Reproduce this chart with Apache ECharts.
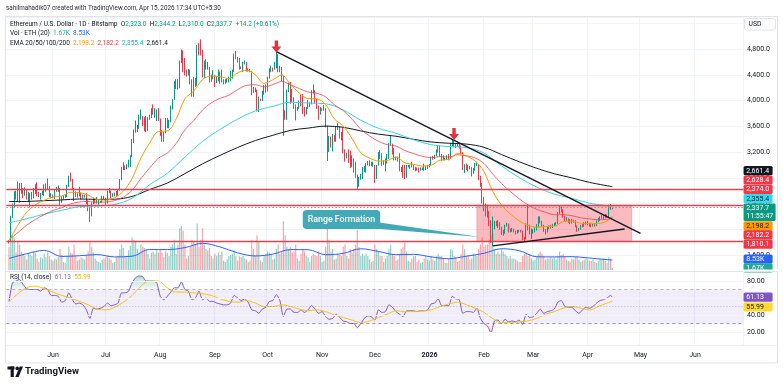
<!DOCTYPE html>
<html>
<head>
<meta charset="utf-8">
<title>ETHUSD 1D</title>
<script src="https://cdn.jsdelivr.net/npm/echarts@6/dist/echarts.min.js"></script>
<style>
html,body{margin:0;padding:0;background:#ffffff;}
#chart{width:783px;height:388px;}
</style>
</head>
<body>
<div id="chart"></div>
<script>
// ================= DATA =================
// Daily candles, Bitstamp ETH/USD, 2025-05-07 .. 2026-04-15 (open = previous close)
const firstDataDate = '2025-05-07';
const firstOpen = 1815;
const closes = [
// May 7-31
1810,2205,2345,2580,2515,2495,2680,2610,2550,2600,2480,2500,2520,2525,2555,2665,2535,2530,2550,2565,2660,2680,2630,2530,2530,
// Jun
2510,2600,2590,2610,2420,2480,2520,2510,2680,2815,2770,2640,2575,2525,2545,2545,2510,2525,2525,2405,2295,2230,2410,2450,2420,2420,2425,2435,2500,2490,
// Jul
2400,2575,2590,2510,2520,2545,2540,2610,2770,2950,2960,2945,2970,3010,3140,3370,3480,3545,3595,3760,3760,3740,3635,3710,3720,3745,3875,3795,3795,3810,3700,
// Aug
3490,3400,3500,3720,3610,3680,3910,4010,4250,4260,4220,4600,4750,4550,4440,4420,4470,4320,4080,4340,4230,4830,4780,4770,4380,4600,4500,4505,4370,4360,4390,
// Sep
4320,4320,4450,4300,4300,4270,4300,4310,4310,4350,4450,4720,4670,4600,4520,4500,4590,4590,4470,4480,4450,4200,4160,4160,3870,4030,4020,4140,4220,4150,
// Oct
4350,4480,4510,4480,4510,4690,4460,4520,4370,3830,3750,4150,4250,4130,3990,3900,3830,3880,3985,3980,3880,3800,3870,3930,3950,4150,4130,3990,3900,3800,3850,
// Nov
3870,3880,3600,3300,3420,3300,3430,3400,3580,3560,3420,3420,3230,3110,3170,3090,3000,3110,3020,2840,2760,2770,2810,2950,2960,3020,3020,3030,2990,2990,
// Dec
2800,2990,3190,3140,3030,3045,3050,3120,3320,3320,3240,3090,3110,3070,2930,2950,2830,2820,2980,2980,2970,3000,2960,2950,2930,2920,2940,2950,2940,2970,2970,
// Jan
3000,3120,3100,3140,3220,3290,3160,3110,3090,3100,3120,3100,3320,3350,3310,3300,3310,3280,3190,2950,2980,2960,2950,2960,2880,2930,3010,3010,2820,2700,2450,
// Feb
2390,2320,2230,2100,1830,2060,2090,2080,2100,2020,1940,1950,2050,2080,1960,1990,1990,1960,1950,1960,1980,1970,1860,1850,2060,2030,1950,1960,
// Mar
1970,2000,2050,2180,2120,2060,1990,1960,2020,2040,2030,2060,2080,2090,2250,2330,2300,2200,2150,2160,2140,2100,2140,2130,2050,1990,2000,2060,2050,2090,2100,
// Apr 1-15
2080,2060,2050,2080,2060,2120,2160,2170,2190,2180,2210,2200,2350,2323.5,2337.7
];
const highs = [
1830,2210,2400,2590,2600,2740,2720,2720,2640,2650,2610,2580,2560,2580,2640,2700,2730,2580,2565,2600,2700,2710,2790,2670,2560,
2540,2610,2660,2680,2640,2520,2530,2540,2690,2830,2880,2780,2640,2590,2560,2660,2570,2540,2540,2560,2450,2340,2420,2490,2480,2500,2460,2440,2520,2520,
2490,2600,2640,2600,2560,2570,2600,2620,2780,2970,3040,2990,3010,3080,3150,3400,3550,3690,3620,3780,3860,3760,3740,3760,3740,3780,3880,3940,3880,3860,3880,
3720,3540,3510,3730,3730,3700,3920,4020,4300,4330,4330,4620,4790,4780,4660,4480,4490,4480,4330,4360,4350,4860,4890,4950,4790,4620,4640,4600,4520,4400,4470,
4400,4380,4480,4450,4480,4330,4330,4340,4370,4460,4480,4730,4770,4680,4660,4530,4600,4620,4600,4500,4490,4460,4210,4200,4170,4060,4030,4150,4240,4250,
4370,4500,4540,4510,4600,4760,4720,4540,4520,4380,3850,4170,4280,4290,4180,4050,3940,3900,4000,4090,4100,3900,3900,4010,3970,4160,4250,4160,4030,3920,3900,
3880,3930,3880,3610,3450,3440,3480,3460,3600,3650,3600,3510,3580,3240,3190,3240,3220,3150,3100,3050,2850,2810,2860,2970,2980,3030,3060,3070,3050,3050,
3000,3000,3200,3230,3180,3070,3100,3170,3340,3450,3330,3260,3130,3130,3180,2970,3000,3000,3000,3000,3000,3050,3010,2970,2960,2960,2960,2960,3020,2990,3000,
3010,3130,3140,3160,3240,3300,3300,3170,3150,3110,3150,3170,3340,3400,3370,3330,3330,3330,3300,3200,3010,3020,3000,2980,2970,2950,3030,3050,3010,2830,2720,
2500,2400,2380,2280,2140,2200,2130,2130,2140,2110,2040,1990,2070,2100,2090,2010,2020,2010,1980,1990,1990,1990,1980,1880,2090,2380,2070,2010,
2000,2030,2080,2200,2200,2130,2070,2000,2040,2060,2070,2080,2100,2110,2270,2370,2350,2310,2210,2190,2170,2160,2160,2150,2140,2060,2020,2070,2080,2110,2120,
2130,2100,2080,2090,2090,2140,2180,2200,2220,2220,2240,2230,2380,2390,2344.2
];
const lows = [
1780,1805,2180,2330,2460,2430,2410,2550,2480,2520,2460,2420,2340,2460,2480,2550,2510,2500,2460,2530,2520,2580,2610,2500,2480,
2480,2470,2580,2580,2380,2410,2460,2490,2500,2660,2740,2620,2440,2500,2490,2510,2460,2480,2490,2390,2280,2110,2200,2390,2400,2400,2380,2410,2410,2460,
2380,2400,2560,2480,2500,2510,2510,2520,2600,2760,2920,2920,2930,2960,2970,3120,3340,3500,3510,3560,3700,3600,3520,3510,3530,3700,3725,3780,3730,3680,3680,
3450,3360,3360,3490,3570,3570,3660,3860,4010,4180,4170,4190,4580,4440,4390,4370,4390,4250,4060,4060,4210,4230,4700,4700,4360,4350,4480,4480,4280,4290,4330,
4210,4270,4300,4260,4280,4250,4260,4280,4280,4300,4340,4440,4640,4590,4480,4490,4440,4560,4450,4450,4440,4080,4120,4130,3830,3820,3990,3990,4090,4120,
4140,4340,4440,4450,4480,4500,4440,4440,4300,3450,3700,3700,4130,3950,3970,3870,3690,3840,3870,3910,3790,3750,3780,3870,3900,3940,4110,3950,3870,3700,3780,
3840,3840,3580,3060,3200,3270,3210,3360,3360,3540,3410,3380,3180,3050,3100,3030,2950,2970,2880,2800,2620,2660,2770,2780,2890,2880,2990,2980,2980,2970,
2720,2780,2990,3090,2980,3000,2900,3020,3090,3300,3160,3070,3070,3050,2900,2890,2800,2780,2800,2960,2940,2960,2920,2900,2910,2880,2910,2920,2910,2920,2940,
2960,2990,3080,3090,3130,3190,3130,3060,3070,3070,3080,3070,3090,3290,3280,3260,3280,3250,3170,2920,2870,2920,2900,2930,2820,2860,2910,2980,2760,2660,2400,
2280,2200,2180,2050,1790,1740,2000,2050,2020,1990,1910,1900,1930,2040,1950,1950,1960,1950,1920,1930,1950,1950,1830,1810,1840,1980,1920,1850,
1930,1950,1980,2030,2090,2040,1960,1920,1950,2000,2010,2020,2050,2060,2080,2240,2260,2180,2120,2130,2100,2080,2090,2100,2030,1960,1970,1990,2030,2040,2070,
2060,2040,2030,2040,2040,2050,2110,2130,2160,2150,2170,2180,2190,2300,2310
];
// Daily volume, thousands of ETH
const volumes = [
20,38,30,28,15,25,22,16,14,12,9,14,13,12,16,15,10,7,11,10,14,11,15,12,9,
8,10,9,11,18,13,7,6,12,20,15,14,22,12,8,9,11,10,9,13,16,24,20,15,10,8,7,6,9,10,
11,12,10,9,6,7,11,12,18,22,19,12,11,17,21,28,26,24,18,15,22,20,19,18,14,10,15,16,14,17,15,
18,15,11,16,15,12,20,22,26,14,22,36,38,34,22,10,12,20,26,24,22,40,20,26,36,22,18,17,19,12,10,
14,12,15,13,16,8,7,9,12,13,14,17,12,8,12,11,12,10,9,7,8,26,18,13,30,24,8,7,12,14,
16,15,13,9,10,18,22,14,16,42,30,20,18,20,15,16,22,10,8,14,18,16,12,11,7,12,14,13,12,16,12,
7,8,20,36,26,16,18,9,10,14,13,12,20,22,12,10,18,15,18,22,34,20,12,14,12,14,12,9,7,8,
22,18,16,12,12,7,10,12,18,22,14,12,8,9,14,18,20,24,16,8,7,10,12,12,7,9,6,7,10,12,9,
8,12,9,8,12,14,12,12,10,6,6,10,18,17,12,11,7,8,14,22,18,12,13,9,10,14,13,12,18,22,28,
20,22,22,26,30,32,18,14,16,14,18,16,14,12,10,12,10,10,9,8,7,7,12,14,15,12,14,10,
8,9,12,14,16,14,12,9,10,10,11,10,11,9,12,16,13,14,12,9,8,7,10,9,11,12,9,7,8,9,10,
9,8,8,9,7,6,8,10,9,10,8,6,11,10,1.67
];
// Indicator lines at fixed day steps (+ last value)
const ema20Step = 5;
const ema20 = [1820,2060,2264,2380,2450,2500,2516,2573,2568,2530,2463,2454,2490,2592,2788,3107,3344,3519,3527,3713,4026,4146,4324,4381,4369,4342,4432,4470,4400,4266,4323,4396,4248,4119,4029,4025,3937,3714,3606,3411,3187,3106,3060,3068,3120,3034,3009,2982,2993,3074,3084,3177,3135,3062,2896,2587,2376,2236,2131,2060,2032,2043,2046,2118,2127,2093,2088,2089,2129];
const ema20Last = 2198.2;
const ema50Step = 5;
const ema50 = [1840,1947,2062,2152,2226,2290,2335,2394,2424,2432,2419,2423,2445,2500,2607,2787,2954,3105,3184,3332,3545,3687,3852,3964,4034,4082,4170,4235,4245,4212,4248,4295,4245,4186,4132,4112,4056,3932,3843,3710,3553,3449,3366,3314,3293,3222,3176,3133,3111,3127,3122,3158,3142,3107,3022,2857,2711,2586,2474,2379,2309,2264,2225,2226,2210,2179,2161,2148,2156];
const ema50Last = 2182.2;
const ema100Step = 10;
const ema100 = [2100,2163,2235,2294,2351,2362,2385,2482,2693,2870,3120,3363,3552,3711,3838,3909,3974,3961,3950,3852,3694,3568,3491,3390,3314,3284,3269,3184,2984,2804,2655,2545,2481,2405];
const ema100Last = 2355.4;
const ema200Step = 10;
const ema200 = [2430,2432,2444,2455,2470,2464,2467,2510,2618,2718,2864,3016,3148,3270,3378,3459,3536,3571,3602,3584,3527,3477,3445,3397,3356,3336,3323,3273,3160,3049,2947,2862,2798,2728];
const ema200Last = 2661.4;
const volMaStep = 10;
const volMa = [10,14,16.9,11.7,12.3,13.3,11.3,11.9,17.7,17.6,19.3,23,19.9,14.8,12.1,13.7,17.6,17.5,13.2,14.3,18.3,16,13.2,13.5,11.3,9.7,11.9,14.4,18.3,16.7,11.4,11.3,11.5,10.3];
const volMaLast = 8.53;
const rsiStep = 2;
const rsi = [56,78,80,82,76,71,70,70,70,68,72,70,63,63,62,55,57,66,58,53,54,52,46,36,48,47,48,50,54,51,
52,54,66,66,68,78,84,86,85,80,80,80,78,62,58,62,67,72,72,79,70,68,58,60,68,58,60,56,56,54,
53,52,52,54,63,60,57,59,55,46,45,42,47,49,56,57,64,57,38,47,47,43,43,46,43,46,51,47,42,44,
38,35,36,41,37,33,32,30,30,25,30,36,39,38,34,46,43,44,52,49,44,41,38,45,45,45,44,45,45,46,
53,54,59,51,51,51,62,59,58,42,44,44,43,48,36,30,27,19,33,34,30,35,32,33,32,34,29,41,37,38,
42,47,42,44,45,47,55,57,50,49,49,45,42,46,49,48,50,54,57,58,60,63];
const rsiLast = 61.13;
const rsiMaStep = 5;
const rsiMa = [55,65,72,74,71,67,63,60,56,52,47,46,49,55,63,74,80,80,72,67,67,66,65,63,59,56,55,57,54,50,50,52,50,47,45,46,44,40,37,34,31,33,37,41,45,44,44,45,46,50,53,55,52,48,43,36,31,31,32,33,36,41,44,48,50,48,46,50,54];
const rsiMaLast = 55.99;

// Drawn levels and annotations (prices / dates)
const resistanceLevels = [2628.4, 2374.0];
const supportLevel = 1810.1;
const rangeBox = {from: '2026-01-28', to: '2026-04-26', top: 2374.0, bottom: 1810.1};
const downTrend = [['2025-10-06', 4760], ['2026-05-01', 1937]];
const upTrend = [['2026-02-06', 1741], ['2026-04-22', 2003]];
const arrows = [['2025-10-06', 4839], ['2026-01-15', 3480]];
const callout = {text: 'Range Formation', from: '2025-10-21', to: '2025-12-04', top: 2299, bottom: 2004, tipDate: '2026-01-30', tipPrice: 1880};

// Tick labels
const monthTickDates = ['2025-06-01','2025-07-01','2025-08-01','2025-09-01','2025-10-01','2025-11-01','2025-12-01','2026-01-01','2026-02-01','2026-03-01','2026-04-01','2026-05-01','2026-06-01'];
const monthTickLabels = ['Jun','Jul','Aug','Sep','Oct','Nov','Dec','2026','Feb','Mar','Apr','May','Jun'];
const priceTickMin = 1600, priceTickMax = 5200;
const rsiTicks = [20, 40, 60, 80];

// Texts
const headerText = 'sahilmahadik07 created with TradingView.com, Apr 15, 2026 17:34 UTC+5:30';
const symbolText = 'Ethereum / U.S. Dollar · 1D · Bitstamp';
const ohlcText = {O: '2,323.0', H: '2,344.2', L: '2,310.0', C: '2,337.7', chg: '+14.2 (+0.61%)'};
const countdownText = '11:55:47';

// ================= BUILD =================
const FONT = 'Roboto, "Noto Sans", "Liberation Sans", sans-serif';
const DAY = 86400000;
const catStart = Date.UTC(2025, 4, 6);   // one empty slot before first candle
const CAT_COUNT = 419;                    // through 2026-06-28
const categories = [];
for (let i = 0; i < CAT_COUNT; i++) categories.push(new Date(catStart + i * DAY).toISOString().slice(0, 10));
const OFFSET = categories.indexOf(firstDataDate);
const N = closes.length;
const fmt1 = v => v.toLocaleString('en-US', {minimumFractionDigits: 1, maximumFractionDigits: 1});

const opens = closes.map((c, i) => i === 0 ? firstOpen : closes[i - 1]);
const candleData = closes.map((c, i) => [i + OFFSET, opens[i], c, lows[i], highs[i]]);
const UP = '#089981', DOWN = '#f23645';
const volData = volumes.map((v, i) => ({
  value: [i + OFFSET, v],
  itemStyle: {color: closes[i] >= opens[i] ? 'rgba(8,153,129,0.45)' : 'rgba(242,54,69,0.45)'}
}));
function stepped(vals, step, last) {
  const out = vals.map((v, k) => [k * step + OFFSET, v]);
  out.push([N - 1 + OFFSET, last]);
  return out;
}
const isMonthStart = (idx, val) => monthTickDates.indexOf(val) >= 0;

const GRID_L = 6.36, GRID_RIGHT_X = 743.4, GRID_R = 783 - GRID_RIGHT_X;
const lineS = (name, data, color, width, xi, yi, z, extra) => Object.assign({
  type: 'line', name, data, xAxisIndex: xi, yAxisIndex: yi, symbol: 'none', smooth: 0.35,
  lineStyle: {color, width}, z, silent: true
}, extra || {});

const LEVEL_RED = '#e8414d';
const levelItem = v => ({yAxis: v, lineStyle: {color: LEVEL_RED, width: 1.3, type: 'solid', opacity: 1}});
const arrowPath = 'path://M3.3,0 L6.7,0 L6.7,6 L10,6 L5,12 L0,6 L3.3,6 Z';

const option = {
  animation: false,
  backgroundColor: '#ffffff',
  textStyle: {fontFamily: FONT},
  grid: [
    {left: GRID_L, right: GRID_R, top: 17, height: 263.75},
    {left: GRID_L, right: GRID_R, top: 212, height: 58},
    {left: GRID_L, right: GRID_R, top: 264, height: 85},
    {left: GRID_L, right: GRID_R, top: 17, height: 328}
  ],
  xAxis: [0, 1, 2, 3].map(g => ({
    type: 'category', gridIndex: g, data: categories, boundaryGap: true,
    axisLine: {show: false}, axisTick: {show: false},
    axisLabel: g === 3 ? {
      show: true, interval: isMonthStart, margin: 7, fontSize: 7, color: '#131722', fontFamily: FONT,
      formatter: v => {
        const k = monthTickDates.indexOf(v);
        if (k < 0) return '';
        return monthTickLabels[k] === '2026' ? '{b|2026}' : monthTickLabels[k];
      },
      rich: {b: {fontWeight: 'bold', fontSize: 7, color: '#131722', fontFamily: FONT}}
    } : {show: false},
    splitLine: g === 3 ? {show: true, interval: isMonthStart, lineStyle: {color: '#f0f3fa', width: 1}} : {show: false}
  })),
  yAxis: [
    {type: 'value', gridIndex: 0, position: 'right', min: 1200, max: 5297.1, interval: 400,
      axisLine: {show: false}, axisTick: {show: false},
      axisLabel: {margin: 3.6, fontSize: 7, color: '#131722', fontFamily: FONT,
        formatter: v => (v >= priceTickMin && v <= priceTickMax && v % 400 === 0) ? fmt1(v) : ''},
      splitLine: {show: true, lineStyle: {color: '#f0f3fa', width: 1}}},
    {type: 'value', gridIndex: 1, min: 0, max: 50, show: false},
    {type: 'value', gridIndex: 2, position: 'right', min: 0, max: 100, interval: 20,
      axisLine: {show: false}, axisTick: {show: false},
      axisLabel: {margin: 3.6, fontSize: 7, color: '#131722', fontFamily: FONT,
        formatter: v => rsiTicks.indexOf(v) >= 0 ? v.toFixed(2) : ''},
      splitLine: {show: false}},
    {type: 'value', gridIndex: 3, min: 0, max: 1, show: false}
  ],
  series: [
    {type: 'bar', name: 'Volume', xAxisIndex: 1, yAxisIndex: 1, data: volData, barWidth: 1.2, z: 1, silent: true},
    lineS('Vol MA', stepped(volMa, volMaStep, volMaLast), '#2962ff', 1, 1, 1, 2),
    {type: 'candlestick', name: 'ETHUSD', xAxisIndex: 0, yAxisIndex: 0, data: candleData,
      encode: {x: 0, y: [1, 2, 3, 4]}, barWidth: 1.2, z: 3, silent: true,
      itemStyle: {color: UP, color0: DOWN, borderColor: UP, borderColor0: DOWN, borderWidth: 1},
      markArea: {silent: true, itemStyle: {color: 'rgba(242,54,69,0.34)', borderColor: 'rgba(242,54,69,0.5)', borderWidth: 0.6},
        data: [[{coord: [rangeBox.from, rangeBox.top]}, {coord: [rangeBox.to, rangeBox.bottom]}]]},
      markLine: {silent: true, symbol: ['none', 'none'], label: {show: false},
        lineStyle: {color: LEVEL_RED, width: 1.3, type: 'solid'},
        data: [levelItem(resistanceLevels[0]), levelItem(resistanceLevels[1]), levelItem(supportLevel)]}
    },
    lineS('EMA 200', stepped(ema200, ema200Step, ema200Last), '#131722', 1, 0, 0, 4),
    lineS('EMA 100', stepped(ema100, ema100Step, ema100Last), '#38d3e6', 1, 0, 0, 4),
    lineS('EMA 50', stepped(ema50, ema50Step, ema50Last), 'rgba(242,54,69,0.75)', 1, 0, 0, 4),
    lineS('EMA 20', stepped(ema20, ema20Step, ema20Last), '#ff9800', 1, 0, 0, 4, {
      markLine: {silent: true, symbol: ['none', 'none'], label: {show: false},
        lineStyle: {color: '#131722', width: 1.4, type: 'solid'},
        data: [
          {yAxis: closes[N - 1], lineStyle: {color: '#9598a1', width: 1, type: [1.5, 2]}},
          [{coord: downTrend[0]}, {coord: downTrend[1]}],
          [{coord: upTrend[0]}, {coord: upTrend[1]}]
        ]},
      markPoint: {silent: true, symbol: arrowPath, symbolSize: [10, 12], label: {show: false},
        itemStyle: {color: '#e03340'},
        data: arrows.map(a => ({coord: a}))}
    }),
    {type: 'line', name: 'RSI fill', xAxisIndex: 2, yAxisIndex: 2, data: stepped(rsi, rsiStep, rsiLast),
      symbol: 'none', smooth: 0.2, lineStyle: {width: 0}, z: 1, silent: true,
      areaStyle: {origin: 50, color: {type: 'linear', x: 0, y: 264, x2: 0, y2: 349, global: true, colorStops: [
        {offset: 0, color: 'rgba(8,153,129,0.75)'}, {offset: 0.299, color: 'rgba(8,153,129,0.08)'},
        {offset: 0.3, color: 'rgba(8,153,129,0)'}, {offset: 0.7, color: 'rgba(242,54,69,0)'},
        {offset: 0.701, color: 'rgba(242,54,69,0.08)'}, {offset: 1, color: 'rgba(242,54,69,0.75)'}]}}},
    lineS('RSI', stepped(rsi, rsiStep, rsiLast), '#7e57c2', 1, 2, 2, 3, {smooth: 0.2,
      markArea: {silent: true, itemStyle: {color: 'rgba(126,87,194,0.1)'}, data: [[{yAxis: 30}, {yAxis: 70}]]},
      markLine: {silent: true, symbol: ['none', 'none'], label: {show: false},
        data: [
          {yAxis: 20, lineStyle: {color: '#f0f3fa', width: 1, type: 'solid'}},
          {yAxis: 40, lineStyle: {color: '#f0f3fa', width: 1, type: 'solid'}},
          {yAxis: 60, lineStyle: {color: '#f0f3fa', width: 1, type: 'solid'}},
          {yAxis: 80, lineStyle: {color: '#f0f3fa', width: 1, type: 'solid'}},
          {yAxis: 70, lineStyle: {color: 'rgba(120,123,134,0.55)', width: 1, type: [3, 3]}},
          {yAxis: 50, lineStyle: {color: 'rgba(120,123,134,0.45)', width: 1, type: [1, 2]}},
          {yAxis: 30, lineStyle: {color: 'rgba(120,123,134,0.75)', width: 1, type: [3, 3]}}
        ]}}),
    lineS('RSI MA', stepped(rsiMa, rsiMaStep, rsiMaLast), '#f5c518', 1, 2, 2, 3)
  ]
};

const chart = echarts.init(document.getElementById('chart'), null, {renderer: 'canvas'});
chart.setOption(option);

// ================= OVERLAY TEXT / DRAWINGS =================
const P = (date, price) => chart.convertToPixel({gridIndex: 0}, [date, price]);
const g = [];
const T = (x, y, text, opts) => g.push({type: 'text', z: 120, silent: true,
  style: Object.assign({x, y, text, fill: '#131722', font: '7px ' + FONT, verticalAlign: 'middle', align: 'left'}, opts || {})});
const R = (x, y, w, h, fill, z, extra) => g.push({type: 'rect', z: z || 110, silent: true,
  shape: Object.assign({x, y, width: w, height: h}, extra && extra.shape || {}),
  style: Object.assign({fill}, extra && extra.style || {})});

// frame and pane separators
g.push({type: 'rect', z: 90, silent: true, shape: {x: 5.5, y: 16.5, width: 772, height: 346.5}, style: {fill: 'none', stroke: '#e0e3eb', lineWidth: 1}});
g.push({type: 'line', z: 90, silent: true, shape: {x1: 5.5, y1: 271.5, x2: 777.5, y2: 271.5}, style: {stroke: '#e0e3eb', lineWidth: 1}});
g.push({type: 'line', z: 90, silent: true, shape: {x1: 5.5, y1: 345.5, x2: 777.5, y2: 345.5}, style: {stroke: '#eef0f4', lineWidth: 1}});

// header + legends
T(6, 8, headerText, {font: '6.3px ' + FONT, fill: '#2a2e39'});
const leg = {fontSize: 6.5, fontFamily: FONT};
g.push({type: 'text', z: 120, silent: true, style: {x: 10, y: 24, verticalAlign: 'middle',
  text: '{d|' + symbolText + '  O}{g|' + ohlcText.O + '}{d|  H}{g|' + ohlcText.H + '}{d|  L}{g|' + ohlcText.L + '}{d|  C}{g|' + ohlcText.C + '}{g|  ' + ohlcText.chg + '}',
  rich: {d: Object.assign({fill: '#131722'}, leg), g: Object.assign({fill: UP}, leg)}}});
g.push({type: 'text', z: 120, silent: true, style: {x: 10, y: 33.5, verticalAlign: 'middle',
  text: '{d|Vol · ETH (20)  }{t|' + volumes[N - 1].toFixed(2) + 'K}{b|  ' + volMaLast.toFixed(2) + 'K}',
  rich: {d: Object.assign({fill: '#131722'}, leg), t: Object.assign({fill: '#22ab94'}, leg), b: Object.assign({fill: '#2962ff'}, leg)}}});
g.push({type: 'text', z: 120, silent: true, style: {x: 10, y: 43, verticalAlign: 'middle',
  text: '{d|EMA 20/50/100/200  }{o|' + fmt1(ema20Last) + '}{r|  ' + fmt1(ema50Last) + '}{c|  ' + fmt1(ema100Last) + '}{k|  ' + fmt1(ema200Last) + '}',
  rich: {d: Object.assign({fill: '#131722'}, leg), o: Object.assign({fill: '#ff9800'}, leg), r: Object.assign({fill: '#f23645'}, leg),
         c: Object.assign({fill: '#00bcd4'}, leg), k: Object.assign({fill: '#131722'}, leg)}}});
g.push({type: 'text', z: 120, silent: true, style: {x: 10, y: 277, verticalAlign: 'middle',
  text: '{d|RSI (14, close)  }{p|' + rsiLast.toFixed(2) + '}{y|  ' + rsiMaLast.toFixed(2) + '}',
  rich: {d: Object.assign({fill: '#131722'}, leg), p: Object.assign({fill: '#7e57c2'}, leg), y: Object.assign({fill: '#e6b800'}, leg)}}});

// USD box
R(744.5, 18.5, 31, 11.5, '#ffffff', 111, {style: {stroke: '#e0e3eb', lineWidth: 1}, shape: {r: 2}});
T(748.5, 24.3, 'USD', {font: '6.8px ' + FONT});

// right-side value labels (stacked like the platform does)
const rightLabels = [
  {text: fmt1(ema200Last), y: 170.6, bg: '#131722', fg: '#ffffff'},
  {text: fmt1(resistanceLevels[0]), y: 180.0, bg: '#f23645', fg: '#ffffff'},
  {text: fmt1(resistanceLevels[1]), y: 189.3, bg: '#f23645', fg: '#ffffff'},
  {text: fmt1(ema100Last), y: 198.6, bg: '#2fdcef', fg: '#131722'},
  {text: fmt1(closes[N - 1]), y: 208.0, bg: '#089981', fg: '#ffffff', sub: countdownText},
  {text: fmt1(ema20Last), y: 225.9, bg: '#ff9800', fg: '#131722'},
  {text: fmt1(ema50Last), y: 234.9, bg: '#f23645', fg: '#ffffff'},
  {text: fmt1(supportLevel), y: 244.1, bg: '#f23645', fg: '#ffffff'},
  {text: volMaLast.toFixed(2) + 'K', y: 259.0, bg: '#2962ff', fg: '#ffffff'},
  {text: volumes[N - 1].toFixed(2) + 'K', y: 267.8, bg: '#22ab94', fg: '#ffffff'},
  {text: rsiLast.toFixed(2), y: 297.2, bg: '#7e57c2', fg: '#ffffff'},
  {text: rsiMaLast.toFixed(2), y: 307.0, bg: '#fdd835', fg: '#131722'}
];
rightLabels.forEach(l => {
  const h = l.sub ? 17.6 : 9.2;
  const w = l.sub ? 32 : 29;
  R(743.6, l.y - 4.6, w, h, l.bg, 112, {shape: {r: 1.5}});
  T(746.3, l.y + 0.3, l.text, {fill: l.fg, font: '7px ' + FONT});
  if (l.sub) T(746.3, l.y + 8.7, l.sub, {fill: l.fg, font: '7px ' + FONT});
});
// cover label overflow at the pane border
R(743, 269.6, 40, 2.2, '#ffffff', 113);
g.push({type: 'line', z: 114, silent: true, shape: {x1: 743, y1: 271.5, x2: 777.5, y2: 271.5}, style: {stroke: '#e0e3eb', lineWidth: 1}});

// "Range Formation" callout, anchored in data space
const tl = P(callout.from, callout.top), br = P(callout.to, callout.bottom), tip = P(callout.tipDate, callout.tipPrice);
const bw = br[0] - tl[0], bh = br[1] - tl[1];
const CALLOUT = '#43a9b6';
g.push({type: 'polygon', z: 115, silent: true,
  shape: {points: [[br[0] - 6, tl[1] + bh * 0.62], [tip[0], tip[1]], [br[0] - 6, br[1] - 0.5]]}, style: {fill: CALLOUT}});
R(tl[0], tl[1], bw, bh, CALLOUT, 116, {shape: {r: 4}});
T(tl[0] + bw / 2, tl[1] + bh / 2 + 0.3, callout.text, {fill: '#ffffff', align: 'center', font: '500 8.8px ' + FONT});

// TradingView logo
R(7.5, 366.5, 7, 3, '#131722', 120);
R(10.6, 366.5, 3.2, 10.5, '#131722', 120);
g.push({type: 'circle', z: 120, silent: true, shape: {cx: 17.2, cy: 368.4, r: 1.8}, style: {fill: '#131722'}});
g.push({type: 'polygon', z: 120, silent: true, shape: {points: [[15.3, 377], [18.6, 377], [23, 366.5], [19.7, 366.5]]}, style: {fill: '#131722'}});
T(25, 372, 'TradingView', {font: 'bold 9.6px ' + FONT});

chart.setOption({graphic: {elements: g}});
</script>
</body>
</html>
